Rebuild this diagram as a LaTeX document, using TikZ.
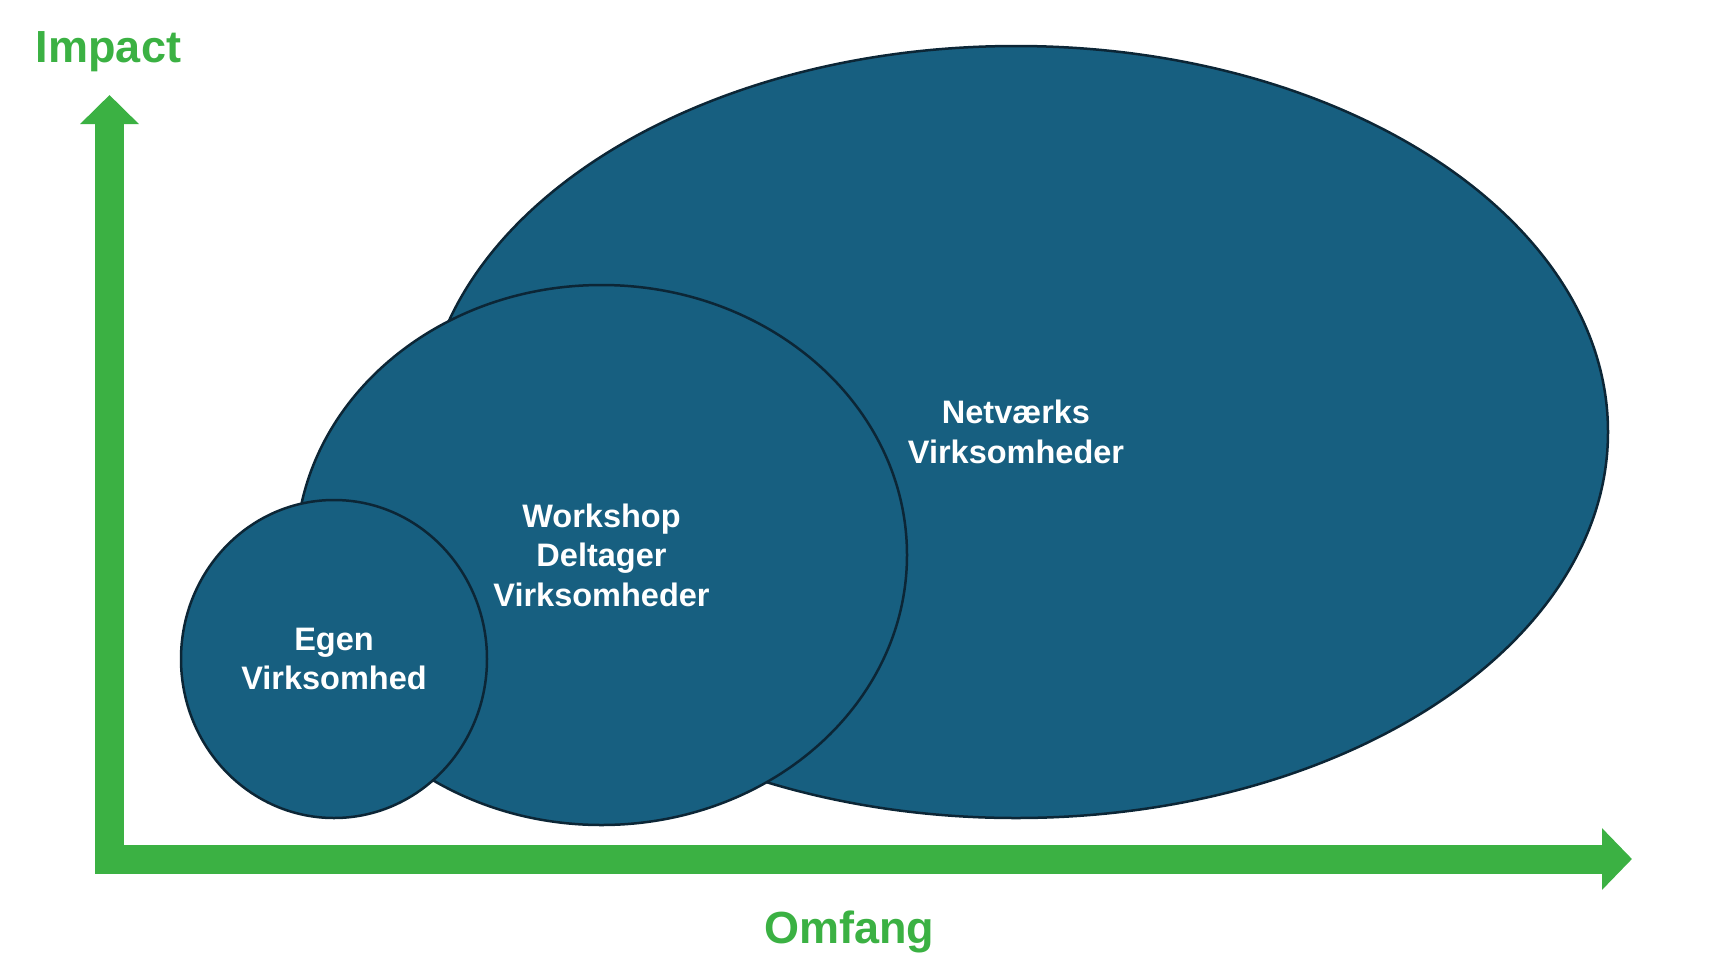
\documentclass[tikz,border=0pt]{standalone}
\usepackage{fontspec}
\setmainfont{Liberation Sans}
\usetikzlibrary{arrows.meta, shapes.geometric, positioning}
\definecolor{axisgreen}{HTML}{3BB143}
\definecolor{blobblue}{HTML}{175F80}
\definecolor{blobedge}{HTML}{0C2636}

\begin{document}
\begin{tikzpicture}[x=1pt, y=-1pt,
    blob/.style={ellipse, draw=blobedge, fill=blobblue, line width=2.5pt, inner sep=0pt,
      text=white, align=center, font=\fontsize{32.5}{39.5}\selectfont\bfseries},
    axislabel/.style={text=axisgreen, anchor=base, font=\fontsize{45}{50}\selectfont\bfseries}]
  \useasboundingbox (0,0) rectangle (1722,962);

  % Akser
  \coordinate (top) at (109.5,95);
  \coordinate (corner) at (109.5,859);
  \coordinate (right) at (1632,859);
  \draw[axisgreen, line width=29pt, {Triangle[length=29pt,width=57pt]}-{Triangle[length=30pt,width=60pt]}] (top) -- (corner) -- (right);
  \node[axislabel] (impactlabel) at (108.5,62) {Impact};
  \node[axislabel] (omfanglabel) at (849,943) {Omfang};

  % Ellipser
  \node[blob, minimum width=1184pt, minimum height=772pt] (netvaerk) at (1016,432) {Netværks\\Virksomheder};
  \node[blob, minimum width=611pt, minimum height=540pt] (workshop) at (601.5,555) {Workshop\\Deltager\\Virksomheder};
  \node[blob, minimum width=306pt, minimum height=318pt] (egen) at (334,659) {Egen\\Virksomhed};
\end{tikzpicture}
\end{document}
